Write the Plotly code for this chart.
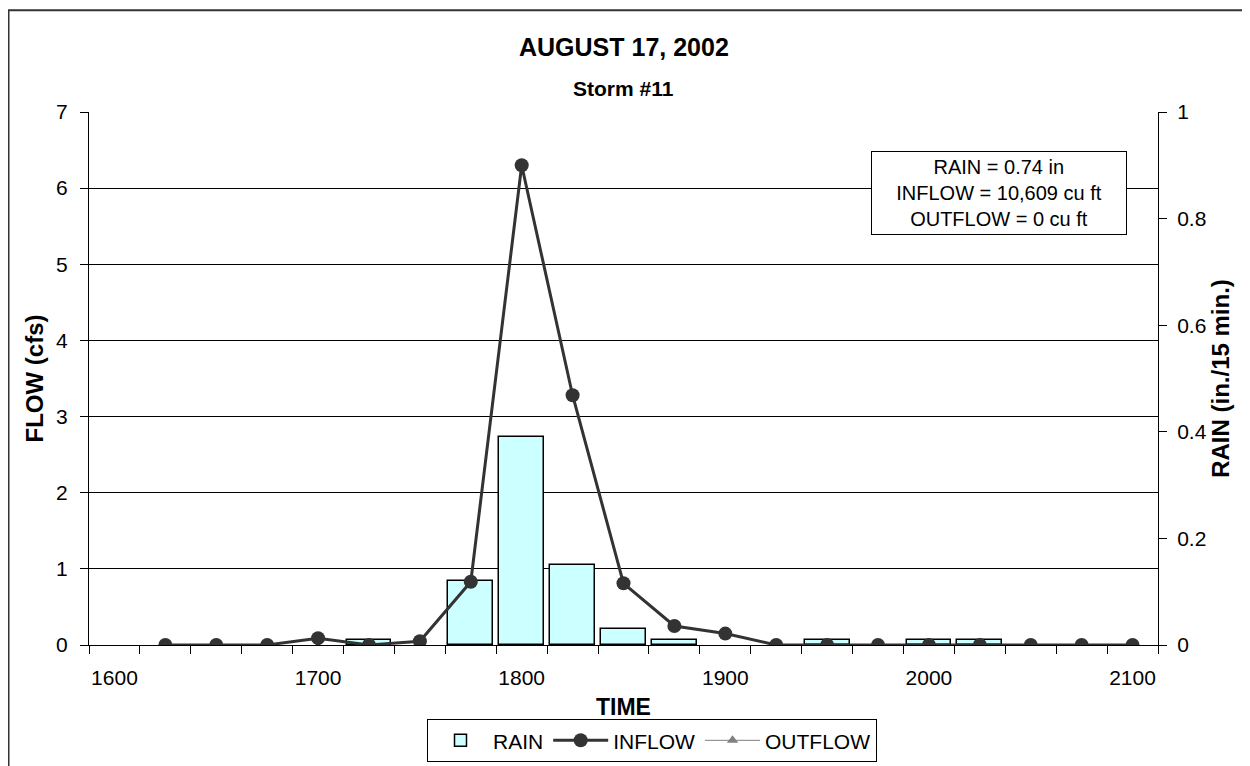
import plotly.graph_objects as go

# storm hydrograph, 15-minute intervals
time_flow = [1625, 1650, 1675, 1700, 1725, 1750, 1775, 1800, 1825, 1850,
             1875, 1900, 1925, 1950, 1975, 2000, 2025, 2050, 2075, 2100]
inflow = [0, 0, 0, 0.09, 0, 0.05, 0.83, 6.3, 3.28, 0.81,
          0.25, 0.15, 0, 0, 0, 0, 0, 0, 0, 0]
# no outflow recorded (series is blank in the chart)
outflow = [None] * len(time_flow)

time_rain = [1725, 1775, 1800, 1825, 1850, 1875, 1950, 2000, 2025]
rain = [0.01, 0.12, 0.39, 0.15, 0.03, 0.01, 0.01, 0.01, 0.01]

x_labels = [1600, 1700, 1800, 1900, 2000, 2100]

FONT = "Liberation Sans, Arial, sans-serif"

# plot area in screen pixels: x 89..1158, y 112..651 (page body adds 8px)
PX0, PW = 89, 1069
PY0, PH = 651, 539


def px(x):
    return (x - PX0) / PW


def py(y):
    return (PY0 - y) / PH


fig = go.Figure()

fig.add_trace(go.Bar(
    x=time_rain, y=rain, name="RAIN", yaxis="y", width=22,
    marker=dict(color="#CCFFFF", line=dict(color="black", width=1.5)),
    legendrank=1))

fig.add_trace(go.Scatter(
    x=time_flow, y=outflow, name="OUTFLOW", yaxis="y2", mode="lines+markers",
    line=dict(color="#808080", width=1),
    marker=dict(symbol="triangle-up", size=10, color="#808080"),
    legendrank=3))

fig.add_trace(go.Scatter(
    x=time_flow, y=inflow, name="INFLOW", yaxis="y2", mode="lines+markers",
    line=dict(color="#333333", width=3),
    marker=dict(symbol="circle", size=14, color="#333333"),
    legendrank=2))

fig.update_layout(
    width=1250, height=766,
    margin=dict(l=81, r=100, t=104, b=123),
    paper_bgcolor="white", plot_bgcolor="white",
    font=dict(family=FONT, size=21, color="black"),
    showlegend=True,
    bargap=0,
    xaxis=dict(
        range=[1587.5, 2112.5], tickvals=x_labels,
        ticks="outside", ticklen=0, tickcolor="black",
        ticklabelstandoff=14,
        minor=dict(tick0=1587.5, dtick=25, ticks="outside", ticklen=8,
                   tickcolor="black", showgrid=False),
        showline=True, linecolor="black", linewidth=1,
        showgrid=False, zeroline=False,
        title=dict(text="<b>TIME</b>", standoff=10, font=dict(size=23)),
        tickfont=dict(size=21)),
    yaxis=dict(
        range=[0, 1], dtick=0.2, side="right", tickformat="~g",
        ticks="outside", ticklen=8, tickcolor="black",
        ticklabelstandoff=6,
        showline=True, linecolor="black", linewidth=1,
        showgrid=False, zeroline=False,
        title=dict(text="<b>RAIN (in./15 min.)</b>", standoff=3, font=dict(size=24)),
        tickfont=dict(size=21)),
    yaxis2=dict(
        range=[0, 7], dtick=1, side="left", overlaying="y",
        ticks="outside", ticklen=8, tickcolor="black",
        ticklabelstandoff=8,
        showline=True, linecolor="black", linewidth=1,
        showgrid=True, gridcolor="black", gridwidth=1, zeroline=False,
        title=dict(text="<b>FLOW (cfs)</b>", standoff=5, font=dict(size=24)),
        tickfont=dict(size=21)),
    legend=dict(
        orientation="h", x=px(427), xanchor="left", y=py(726), yanchor="top",
        bordercolor="black", borderwidth=1, bgcolor="white",
        font=dict(size=21), itemwidth=55, tracegroupgap=0),
)

# chart title lines, centred over the plot area
fig.add_annotation(text="<b>AUGUST 17, 2002</b>", xref="paper", yref="paper",
                   x=0.5, y=py(46), showarrow=False,
                   font=dict(size=25), xanchor="center", yanchor="middle")
fig.add_annotation(text="<b>Storm #11</b>", xref="paper", yref="paper",
                   x=0.5, y=py(88), showarrow=False,
                   font=dict(size=21), xanchor="center", yanchor="middle")

# totals box
fig.add_annotation(
    text="RAIN = 0.74 in<br>INFLOW = 10,609 cu ft<br>OUTFLOW = 0 cu ft",
    xref="paper", yref="paper", x=px(999), y=py(194),
    showarrow=False, align="center", font=dict(size=20),
    bordercolor="black", borderwidth=1, bgcolor="white", borderpad=4,
    width=246, xanchor="center", yanchor="middle")

# outer chart border (cropped at right and bottom)
fig.add_shape(type="rect", xref="paper", yref="paper",
              x0=px(8.5), x1=px(1270), y0=py(790), y1=py(9),
              line=dict(color="#333333", width=2), layer="below")

fig.write_html("out.html")
